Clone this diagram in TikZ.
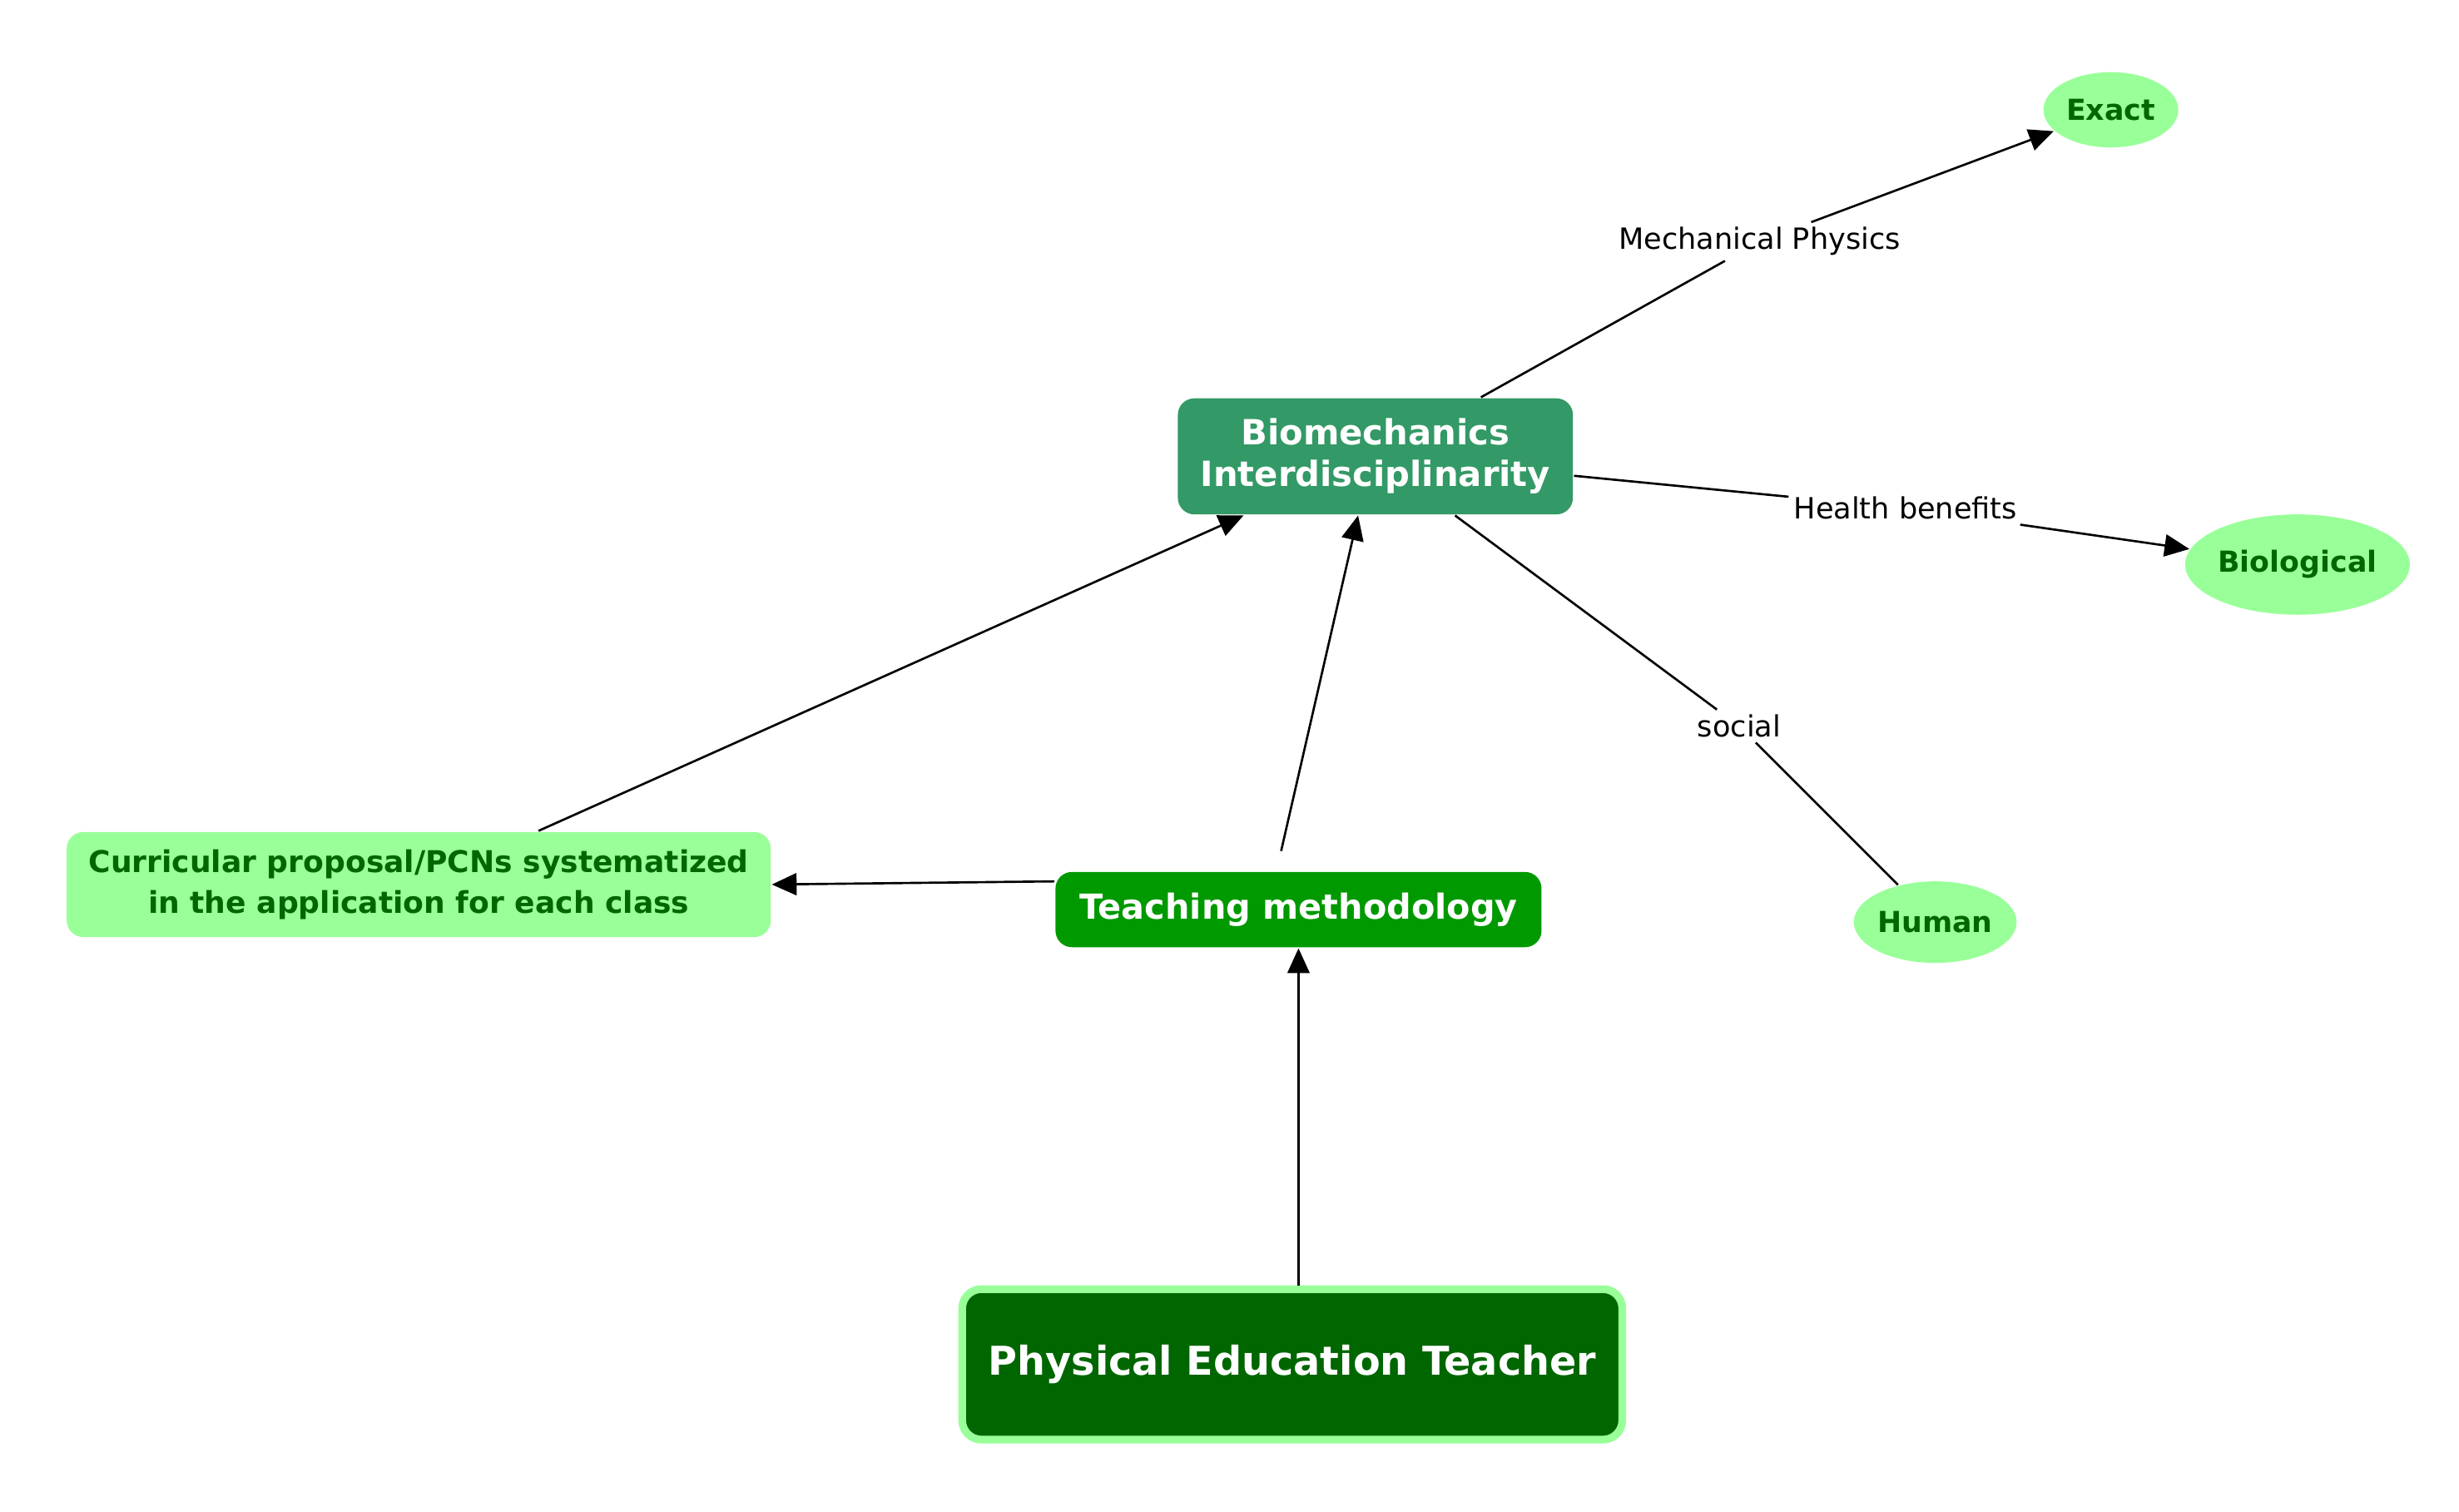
\documentclass[tikz,border=0pt]{standalone}
\usepackage{fontspec}
\setmainfont{DejaVu Sans}
\usetikzlibrary{arrows.meta, shapes.geometric}

\definecolor{darkgreen}{HTML}{006600}
\definecolor{midgreen}{HTML}{009900}
\definecolor{seagreen}{HTML}{339966}
\definecolor{palegreen}{HTML}{99FF99}

\begin{document}
\begin{tikzpicture}[->,>={Triangle[length=9pt,width=8pt]},x=0.02cm,y=-0.02cm,
  line width=0.8pt,
  box node/.style={rectangle,rounded corners=6pt,inner sep=0pt,align=center},
  leaf node/.style={ellipse,fill=palegreen,text=darkgreen,inner sep=0pt,font=\fontsize{10.5}{12}\selectfont\bfseries},
  edge label/.style={fill=white,inner sep=1.5pt,text=black,font=\fontsize{10.6}{12}\selectfont}]

    \useasboundingbox (0,0) rectangle (1568,964);

    \node[box node,fill=darkgreen,draw=palegreen,line width=2.8pt,rounded corners=7pt,text=white,minimum width=8.42cm,minimum height=1.92cm,font=\fontsize{14.4}{17}\selectfont\bfseries] (teacher) at (824,870) {Physical Education Teacher};

    \node[box node,fill=midgreen,text=white,minimum width=6.2cm,minimum height=0.96cm,font=\fontsize{12.5}{15}\selectfont\bfseries] (method) at (828,580) {Teaching methodology};

    \node[box node,fill=seagreen,text=white,minimum width=5.04cm,minimum height=1.48cm,font=\fontsize{12.6}{15}\selectfont\bfseries] (biomech) at (877,291) {Biomechanics\\Interdisciplinarity};

    \node[box node,fill=palegreen,text=darkgreen,minimum width=8.98cm,minimum height=1.34cm,font=\fontsize{10.9}{15}\selectfont\bfseries] (proposal) at (267,564) {Curricular proposal/PCNs systematized\\in the application for each class};

    \node[leaf node,minimum width=1.72cm,minimum height=0.96cm] (exact) at (1346,70) {Exact};
    \node[leaf node,minimum width=2.66cm,minimum height=1.28cm] (biological) at (1465,360) {Biological};
    \node[leaf node,minimum width=2.06cm,minimum height=1.04cm] (human) at (1234,588) {Human};

    % edge labels, the edges bend through them
    \node[edge label] (physics) at (1122,154) {Mechanical Physics};
    \node[edge label] (health) at (1215,324) {Health benefits};
    \node[edge label] (social) at (1109,463) {social};

    \draw (teacher.north -| method.south) -- (method.south);
    \draw[shorten <=0.26cm] ([xshift=-0.28cm]method.north) -- ([xshift=-0.22cm]biomech.south);
    \draw ([yshift=0.36cm]method.west) -- (proposal.east);
    \draw (proposal) -- (biomech);

    \draw (biomech) -- (physics) -- (exact);
    \draw (biomech) -- (health) -- (biological);
    \draw[-] (biomech) -- (social) -- (human);
\end{tikzpicture}
\end{document}
